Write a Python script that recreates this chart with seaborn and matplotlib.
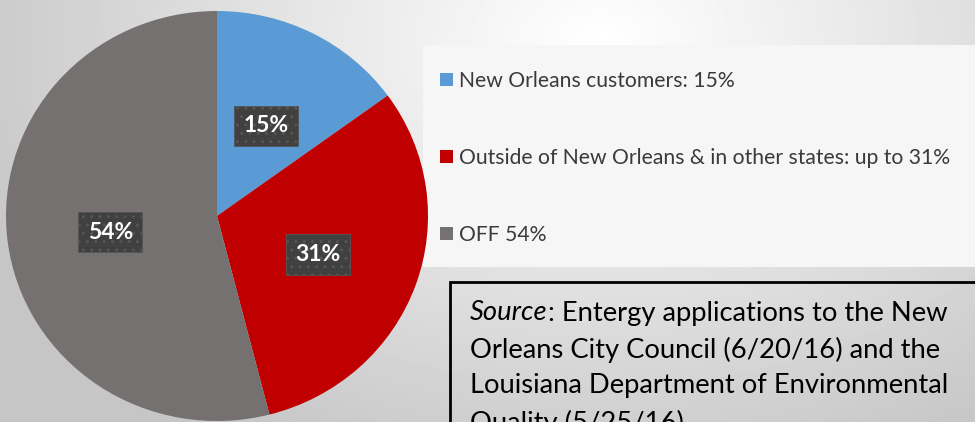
import numpy as np
import matplotlib
matplotlib.use('Agg')
import matplotlib.pyplot as plt
import seaborn as sns
from matplotlib.patches import Rectangle

# data
categories = ['New Orleans customers: 15%',
              'Outside of New Orleans & in other states: up to 31%',
              'OFF 54%']
shares = [15, 31, 54]
source_head = 'Source'
source_lines = [': Entergy applications to the New',
                'Orleans City Council (6/20/16) and the',
                'Louisiana Department of Environmental',
                'Quality (5/25/16).']

sns.set_theme(style='white')
plt.rcParams['font.family'] = ['Lato', 'DejaVu Sans']
colors = sns.color_palette(['#5B9BD5', '#C00000', '#767171'])

W, H = 975, 422
fig = plt.figure(figsize=(W / 100, H / 100), dpi=100)

# 배경 그라데이션
bg = fig.add_axes([0, 0, 1, 1], zorder=0)
yy, xx = np.mgrid[0:H, 0:W]
d = np.hypot((xx - 600) / 480, (yy - 40) / 330)
shade = 1 - 0.16 * np.clip(d, 0, 1.4)
bg.imshow(shade, cmap='gray', vmin=0, vmax=1, aspect='auto',
          extent=(0, W, H, 0), interpolation='bilinear')
bg.set_xlim(0, W)
bg.set_ylim(H, 0)
bg.axis('off')

# 범례 배경 박스
fig.patches.append(Rectangle((423 / W, (H - 267) / H), (W - 423) / W, (267 - 45) / H,
                             transform=fig.transFigure, fc='#f6f6f6', ec='none', zorder=1))

# pie
ax = fig.add_axes([6 / W, 1 / H, 422 / W, 410 / H], zorder=2)
wedges, texts, autotexts = ax.pie(shares, colors=colors, startangle=90, counterclock=False,
                                  autopct=lambda p: f'{p:.0f}%', pctdistance=0.51,
                                  wedgeprops=dict(linewidth=0))
ax.set_aspect('auto')
ax.set_xlim(-1, 1)
ax.set_ylim(-1, 1)
for t in autotexts:
    x, y = t.get_position()
    t.set_position((x, y - 0.015))
    t.set_color('white')
    t.set_fontweight('bold')
    t.set_fontsize(16.5)
    t.set_bbox(dict(boxstyle='square,pad=0.42', fc='#404040', ec='#555555',
                    lw=0.6, hatch='..'))

# legend
fig.legend(wedges, categories, loc='upper left', bbox_to_anchor=(421 / W, (H - 52) / H),
           frameon=False, fontsize=15.2, labelcolor='#3a3a3a', handlelength=0.6,
           handleheight=0.6, labelspacing=2.7, handletextpad=0.3)

# source box
fig.patches.append(Rectangle((450 / W, -0.1), 0.6, (H - 282) / H + 0.1,
                             transform=fig.transFigure, fill=False, ec='black', lw=2, zorder=3))
line_y = [313, 350, 386, 423]
head = bg.text(470, line_y[0], source_head, fontsize=19.7, style='italic', va='center',
               ha='left', color='black', zorder=4)
bg.annotate(source_lines[0], xy=(1, 0), xycoords=head, va='bottom', ha='left',
            fontsize=19.7, color='black')
for line, y in zip(source_lines[1:], line_y[1:]):
    bg.text(470, y, line, fontsize=19.7, va='center', ha='left', color='black')

plt.savefig('out.png', dpi=100)
